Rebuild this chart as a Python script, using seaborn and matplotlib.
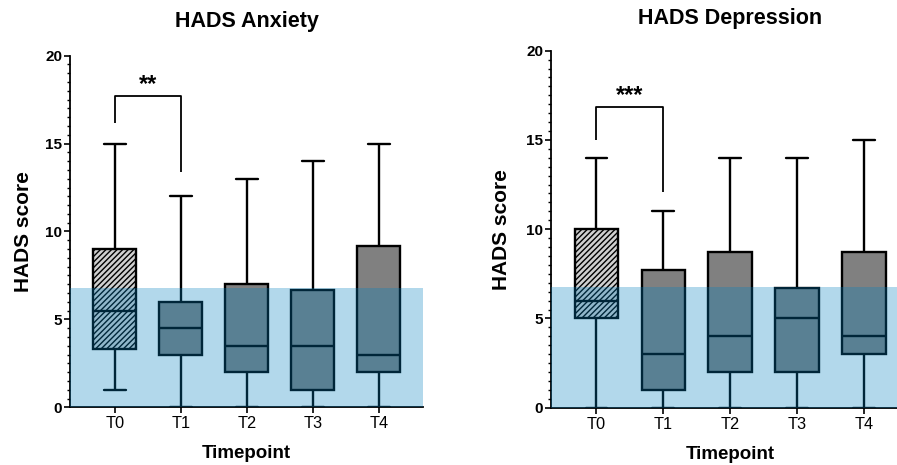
import numpy as np
import pandas as pd
import matplotlib
matplotlib.use("Agg")
import matplotlib.pyplot as plt
import seaborn as sns
from matplotlib.ticker import MultipleLocator

# ---- data (five-number summaries) ----
timepoints = ["T0", "T1", "T2", "T3", "T4"]

anx_min = [1, 0, 0, 0, 0]
anx_q1 = [3.3, 3, 2, 1, 2]
anx_med = [5.5, 4.5, 3.5, 3.5, 3]
anx_q3 = [9, 6, 7, 6.7, 9.2]
anx_max = [15, 12, 13, 14, 15]

dep_min = [0, 0, 0, 0, 0]
dep_q1 = [5, 1, 2, 2, 3]
dep_med = [6, 3, 4, 5, 4]
dep_q3 = [10, 7.7, 8.7, 6.7, 8.7]
dep_max = [14, 11, 14, 14, 15]

titles = ["HADS Anxiety", "HADS Depression"]
normal_cutoff = [6.78, 6.75]          # shaded "normal" range upper bound
sig_labels = ["**", "***"]
# bracket: T0 leg bottom, bracket top, T1 leg bottom
sig_left = [16.2, 15.0]
sig_top = [17.7, 16.85]
sig_right = [13.4, 12.1]


def long_frame(mins, q1s, meds, q3s, maxs):
    rows = []
    for tp, a, b, c, d, e in zip(timepoints, mins, q1s, meds, q3s, maxs):
        for v in (a, b, c, d, e):
            rows.append({"Timepoint": tp, "score": v})
    return pd.DataFrame(rows)


frames = [long_frame(anx_min, anx_q1, anx_med, anx_q3, anx_max),
          long_frame(dep_min, dep_q1, dep_med, dep_q3, dep_max)]

sns.set_theme(style="ticks")
plt.rcParams["font.family"] = ["Liberation Sans", "DejaVu Sans"]
plt.rcParams["hatch.linewidth"] = 1.0

fig = plt.figure(figsize=(8.97, 4.65), dpi=100)
W, H = 897.0, 465.0
ax1 = fig.add_axes([70 / W, (H - 407.3) / H, 353 / W, 351.6 / H])
ax2 = fig.add_axes([551 / W, (H - 407.7) / H, 357.8 / W, 357.0 / H])
axes = [ax1, ax2]
title_pads = [21, 19.5]
ylabel_pads = [9, 11]

palette = {"T0": "#d0d0d0", "T1": "#808080", "T2": "#808080",
           "T3": "#808080", "T4": "#808080"}

for i, ax in enumerate(axes):
    df = frames[i]
    sns.boxplot(data=df, x="Timepoint", y="score", hue="Timepoint",
                order=timepoints, hue_order=timepoints, palette=palette,
                legend=False, whis=(0, 100), width=0.65, linecolor="black",
                linewidth=1.7, saturation=1, ax=ax)
    ax.patches[0].set_hatch("//////")

    ax.axhspan(0, normal_cutoff[i], color="#0080C0", alpha=0.3, lw=0,
               zorder=10)

    # significance bracket T0 vs T1
    ax.plot([0, 0, 1, 1], [sig_left[i], sig_top[i], sig_top[i], sig_right[i]],
            color="black", lw=1.3, solid_capstyle="butt", zorder=5)
    ax.text(0.5, sig_top[i] + 0.3, sig_labels[i], ha="center",
            va="baseline", fontsize=17, fontweight="bold", color="black")

    ax.set_xlim(-0.68, 4.67)
    ax.set_ylim(0, 20)
    ax.set_yticks([0, 5, 10, 15, 20])
    ax.yaxis.set_minor_locator(MultipleLocator(0.5))
    for side in ("top", "right"):
        ax.spines[side].set_visible(False)
    for side in ("left", "bottom"):
        ax.spines[side].set_linewidth(1.3)
        ax.spines[side].set_color("black")
    ax.tick_params(axis="y", which="major", length=4.5, width=1.2, pad=1,
                   labelsize=11, color="black", labelcolor="black")
    ax.tick_params(axis="y", which="minor", length=2.2, width=1.0,
                   color="black")
    ax.tick_params(axis="x", which="major", length=4, width=1.2, pad=2.5,
                   labelsize=11.8, color="black", labelcolor="black")
    for lab in ax.get_yticklabels():
        lab.set_fontweight("bold")

    ax.set_xlabel("Timepoint", fontsize=13.5, fontweight="bold",
                  color="black", labelpad=10)
    ax.set_ylabel("HADS score", fontsize=15, fontweight="bold",
                  color="black", labelpad=ylabel_pads[i])
    ax.set_title(titles[i], fontsize=15.5, fontweight="bold", color="black",
                 pad=title_pads[i])

fig.savefig("out.png", dpi=100)
